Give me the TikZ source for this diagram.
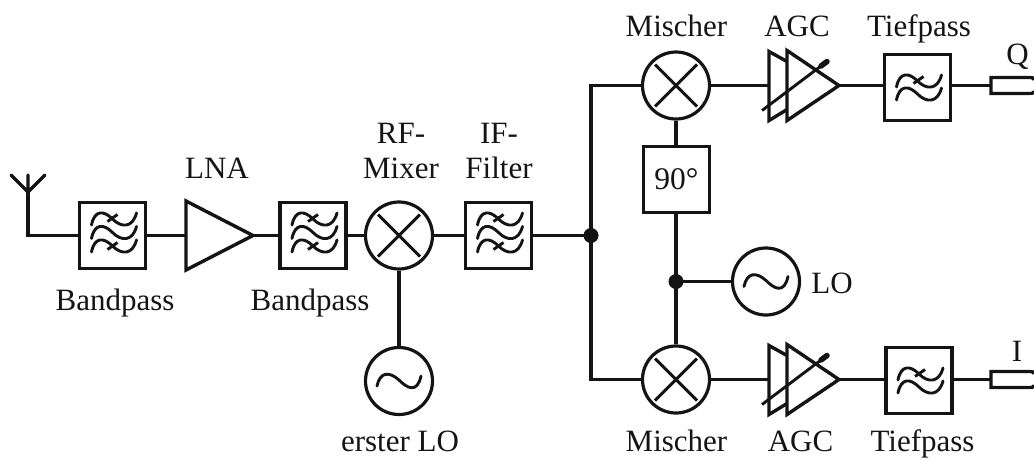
\documentclass[tikz,border=0pt]{standalone}
\usepackage{fontspec}
\setmainfont{Liberation Serif}
\tikzset{
  wire/.style={line width=3.2pt,draw=black!92},
  box/.style={draw=black!92,line width=3.6pt,minimum size=66pt,inner sep=0pt,fill=white},
  txtbox/.style={box,text=black!92,font=\fontsize{31.5}{34}\selectfont},
  ring/.style={circle,draw=black!92,line width=3.2pt,minimum size=67pt,inner sep=0pt},
  dotn/.style={circle,fill=black!92,minimum size=15pt,inner sep=0pt},
  lab/.style={font=\fontsize{31}{34}\selectfont,text=black!92,inner sep=0pt,anchor=base},
  sym/.style={line width=2.9pt,draw=black!92,line cap=round},
  sym2/.style={line width=2.9pt,draw=black!92,line cap=butt},
  pics/wv/.style={code={\draw[sym] (-21,6) .. controls (-18,-9) and (-9,-9) .. (0,0) .. controls (9,9) and (20,9) .. (24,-6);}},
  pics/tk/.style={code={\draw[sym2] (-5,3) -- (5,-4);}},
  pics/bp/.style={code={
    \path (0,-16.5) pic {wv} (0,-3) pic {wv} (0,10.5) pic {wv};
    \path (0,-17) pic {tk} (0,11) pic {tk};}},
  pics/lp/.style={code={
    \path (0,-6.5) pic {wv} (0,6.5) pic {wv};
    \path (1,-7) pic {tk};}},
  pics/xx/.style={code={\draw[line width=2.9pt,draw=black!92] (-21,-21) -- (21,21) (-21,21) -- (21,-21);}},
  pics/sn/.style={code={\draw[line width=2.9pt,draw=black!92,line cap=round] (-22,5) .. controls (-19,-9) and (-10,-10) .. (0,-1) .. controls (8,7) and (18,13) .. (22,-5);}},
  pics/agc/.style={code={
    \draw[line width=3.4pt,draw=black!92,line join=miter] (0,-24) -- (-18,-34) -- (-18,35) -- (0,24);
    \draw[line width=3.4pt,draw=black!92,line join=miter] (0,-35) -- (0,35) -- (52,0) -- cycle;
    \draw[line width=2.9pt,draw=black!92] (-25,25) -- (36,-21);
    \draw[line width=5.5pt,draw=black!92,line cap=round] (34,-19.5) -- (40,-24);}},
  pics/plug/.style={code={\draw[line width=3.2pt,draw=black!92] (43,-6) .. controls (42,-8) and (41,-8) .. (38,-8) -- (0,-8) -- (0,8) -- (38,8) .. controls (41,8) and (42,8) .. (43,6);}},
}
\begin{document}
\begin{tikzpicture}[x=1pt,y=-1pt]
\useasboundingbox (0,0) rectangle (1034,459);
% antenna
\coordinate (ant) at (28,192);
\coordinate (antL) at (11,175);
\coordinate (antR) at (45,175);
\coordinate (antT) at (28,175);
% filters
\node[box] (bp1) at (112.5,235.5) {};
\node[box] (bp2) at (313,235.5) {};
\node[box] (bp3) at (498.5,235.5) {};
\node[box] (lpq) at (917.5,87.5) {};
\node[box] (lpi) at (919,380.5) {};
\path (bp1) pic {bp} (bp2) pic {bp} (bp3) pic {bp} (lpq) pic {lp} (lpi) pic {lp};
% LNA
\coordinate (lnaL) at (186,235.5);
\coordinate (lnaR) at (253,235.5);
\draw[line width=3.4pt,draw=black!92,line join=miter] (186,201) -- (186,270) -- (lnaR) -- cycle;
% circles
\node[ring] (mx1) at (399,235.5) {};
\node[ring] (osc1) at (399,381) {};
\node[ring] (mxq) at (676,85.5) {};
\node[ring] (mxi) at (676,379.5) {};
\node[ring] (lo) at (766,281.5) {};
\path (mx1) pic {xx} (mxq) pic {xx} (mxi) pic {xx} (osc1) pic {sn} (lo) pic {sn};
% 90
\node[txtbox] (ph) at (676.5,179.5) {90°};
% dots
\node[dotn] (d1) at (591,235.5) {};
\node[dotn] (d2) at (676,281.5) {};
% AGC
\coordinate (agcq) at (787,85.5);
\coordinate (agci) at (787,379.5);
\path (agcq) pic {agc} (agci) pic {agc};
\coordinate (agcqL) at (769,85.5);
\coordinate (agcqR) at (839,85.5);
\coordinate (agciL) at (769,379.5);
\coordinate (agciR) at (839,379.5);
% plugs
\coordinate (pq) at (991,85.5);
\coordinate (pi) at (991,379.5);
\path (pq) pic {plug} (pi) pic {plug};
% wires
\draw[wire,line cap=round] (antL) -- (ant) -- (antR) (antT) -- (ant);
\draw[wire] (ant) |- (bp1.west);
\draw[wire] (bp1.east) -- (lnaL);
\draw[wire] (lnaR) -- (bp2.west);
\draw[wire] (bp2.east) -- (mx1.west);
\draw[wire] (mx1.east) -- (bp3.west);
\draw[wire] (bp3.east) -- (d1.center);
\draw[wire] (mx1.south) -- (osc1.north);
\draw[wire] (mxq.west) -| (d1.center);
\draw[wire] (mxi.west) -| (d1.center);
\draw[wire] (mxq.south) -- (ph.north -| mxq.south);
\draw[wire] (ph.south -| d2) -- (d2.center);
\draw[wire] (d2.center) -- (mxi.north);
\draw[wire] (d2.center) -- (lo.west);
\draw[wire] (mxq.east) -- (agcqL);
\draw[wire] (mxi.east) -- (agciL);
\draw[wire] (agcqR) -- (lpq.west |- agcqR);
\draw[wire] (agciR) -- (lpi.west |- agciR);
\draw[wire] (lpq.east |- pq) -- (pq);
\draw[wire] (lpi.east |- pi) -- (pi);
% labels
\node[lab] (t1) at (115,310) {Bandpass};
\node[lab] (t2) at (217,178) {LNA};
\node[lab] (t3) at (310,310) {Bandpass};
\node[lab] (t4) at (401,143) {RF-};
\node[lab] (t5) at (401,178) {Mixer};
\node[lab] (t6) at (499,143) {IF-};
\node[lab] (t7) at (499,178) {Filter};
\node[lab] (t8) at (400,451) {erster LO};
\node[lab] (t9) at (676.5,36) {Mischer};
\node[lab] (t10) at (797,36) {AGC};
\node[lab] (t11) at (919,36) {Tiefpass};
\node[lab] (t12) at (1017.5,64) {Q};
\node[lab] (t13) at (832,293) {LO};
\node[lab] (t14) at (1017,361) {I};
\node[lab] (t15) at (676.5,451) {Mischer};
\node[lab] (t16) at (800.5,451) {AGC};
\node[lab] (t17) at (922.5,451) {Tiefpass};
\end{tikzpicture}
\end{document}
